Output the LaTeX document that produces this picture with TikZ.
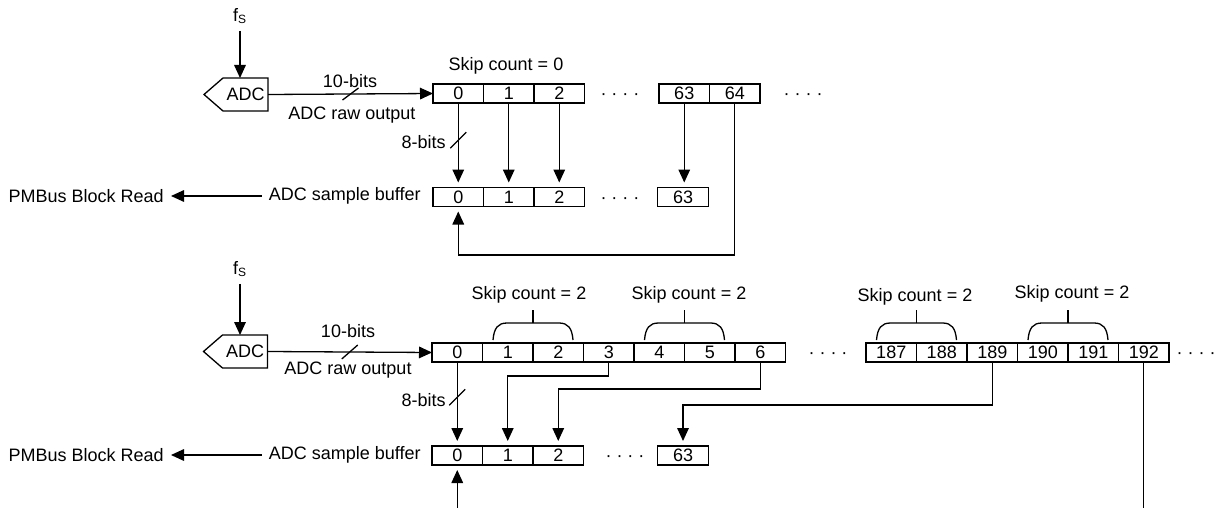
\documentclass[tikz,border=0pt]{standalone}
\usepackage{fontspec}
\setmainfont{Liberation Sans}
\usetikzlibrary{arrows.meta,positioning,calc}

\begin{document}
\begin{tikzpicture}[
    x=0.5pt, y=-0.5pt,
    font=\fontsize{9}{10}\selectfont,
    line width=0.65pt,
    >={Triangle[length=6.5pt,width=5.8pt]},
    cell/.style={draw, minimum width=25.25pt, minimum height=9.5pt, inner sep=0pt, outer sep=0pt},
    adc/.style={minimum width=22.5pt, minimum height=16.5pt, inner sep=0pt, outer sep=0pt},
    shortgap/.style={shorten >=2.5pt},
    more/.style={anchor=base, inner sep=0pt},
    skipbrace/.pic={
      \draw (-40,0) .. controls (-39,-12) and (-35,-17) .. (-26,-17) -- (26,-17) .. controls (35,-17) and (39,-12) .. (40,0);
      \draw (0,-17) -- (0,-30);
    }
  ]
  \useasboundingbox (0,0) rectangle (1214,508);

  % skip count = 0
  \node (fsA) at (240,16) {f\textsubscript{S}};
  \node[adc] (adcA) at (245.5,94.5) {ADC};
  \draw (adcA.north east) -- (adcA.north west) -- ($(adcA.west)+(-19,0)$) -- (adcA.south west) -- (adcA.south east) -- cycle;
  \draw[->] (fsA.south) -- (fsA |- adcA.north);

  \foreach \i in {0,1,2} \node[cell] (ra\i) at (458.25+50.5*\i,93.5) {\i};
  \node[cell] (ra63) at (684.25,93.5) {63};
  \node[cell] (ra64) at (734.75,93.5) {64};
  \node[more] (moreA1) at (620,99) {· · · ·};
  \node[more] (moreA2) at (803,99) {· · · ·};
  \node (skipA) at (506,66) {Skip count = 0};

  \draw[->] (adcA.east) -- coordinate[pos=0.5] (busA) (ra0.west);
  \draw ($(busA)+(-8,6)$) -- ($(busA)+(8,-6)$);
  \node (tenA) at (350,81) {10-bits};
  \node (rawA) at (352,115) {ADC raw output};

  \foreach \i in {0,1,2} \node[cell] (sa\i) at (458.25+50.5*\i,197) {\i};
  \node[cell] (sa63) at (683,197) {63};
  \node[more] (moreA3) at (620,203) {· · · ·};
  \node[anchor=east] (bufA) at (428,196) {ADC sample buffer};
  \node[anchor=east] (pmA) at (171,196) {PMBus Block Read};
  \draw[->] (bufA.west) -- (pmA.east);

  \draw[->, shortgap] (ra0.south) -- coordinate[pos=0.44] (eightA) (sa0.north);
  \draw ($(eightA)+(-8,8)$) -- ($(eightA)+(8,-8)$);
  \node[anchor=east] (eightbitsA) at (453,142) {8-bits};
  \foreach \i in {1,2,63} \draw[->, shortgap] (ra\i.south) -- (ra\i.south |- sa0.north);

  \coordinate (loopA) at (600,255);
  \draw[->, shortgap] (ra64.south) |- (loopA) -| (sa0.south);

  % skip count = 2
  \node (fsB) at (240,269) {f\textsubscript{S}};
  \node[adc] (adcB) at (245,351.5) {ADC};
  \draw (adcB.north east) -- (adcB.north west) -- ($(adcB.west)+(-19,0)$) -- (adcB.south west) -- (adcB.south east) -- cycle;
  \draw[->] (fsB.south) -- (fsB |- adcB.north);

  \foreach \i in {0,...,6} \node[cell] (rb\i) at (457.25+50.5*\i,352.5) {\i};
  \foreach \i [count=\k from 0] in {187,...,192} \node[cell] (rb\i) at (891.25+50.5*\k,352.5) {\i};
  \node[more] (moreB1) at (828,358.5) {· · · ·};
  \node[more] (moreB2) at (1196,358.5) {· · · ·};

  \pic at ($(rb1.north)!0.5!(rb2.north)+(0,-3)$) {skipbrace};
  \pic at ($(rb4.north)!0.5!(rb5.north)+(0,-3)$) {skipbrace};
  \pic at ($(rb187.north)!0.5!(rb188.north)+(0,-3)$) {skipbrace};
  \pic at ($(rb190.north)!0.5!(rb191.north)+(0,-3)$) {skipbrace};
  \node (skipB1) at (529,295) {Skip count = 2};
  \node (skipB2) at (689,295) {Skip count = 2};
  \node (skipB3) at (915,297) {Skip count = 2};
  \node (skipB4) at (1072,294) {Skip count = 2};

  \draw[->] (adcB.east) -- coordinate[pos=0.5] (busB) (rb0.west);
  \draw ($(busB)+(-8,7)$) -- ($(busB)+(8,-7)$);
  \node (tenB) at (348,331) {10-bits};
  \node (rawB) at (348,370) {ADC raw output};

  \foreach \i in {0,1,2} \node[cell] (sb\i) at (457.25+50.5*\i,455.5) {\i};
  \node[cell] (sb63) at (683,455.5) {63};
  \node[more] (moreB3) at (625,461.5) {· · · ·};
  \node[anchor=east] (bufB) at (428,455) {ADC sample buffer};
  \node[anchor=east] (pmB) at (171,455) {PMBus Block Read};
  \draw[->] (bufB.west) -- (pmB.east);

  \draw[->, shortgap] (rb0.south) -- coordinate[pos=0.42] (eightB) (sb0.north);
  \draw ($(eightB)+(-8,8)$) -- ($(eightB)+(8,-8)$);
  \node[anchor=east] (eightbitsB) at (453,400) {8-bits};
  \draw[->, shortgap] (rb3.south) -- ++(0,14) -| (sb1.north);
  \draw[->, shortgap] (rb6.south) -- ++(0,27) -| (sb2.north);
  \draw[->, shortgap] (rb189.south) -- ++(0,43) -| (sb63.north);

  \coordinate (botB) at (0,508);
  \draw (rb192.south) -- (rb192.south |- botB);
  \draw[->, shortgap] (sb0.south |- botB) -- (sb0.south);
\end{tikzpicture}
\end{document}
